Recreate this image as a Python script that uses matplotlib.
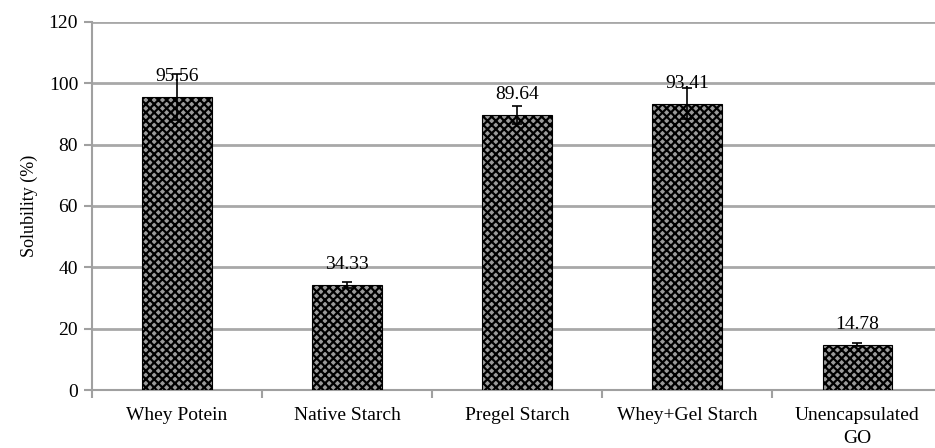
import matplotlib
matplotlib.use("Agg")
import matplotlib.pyplot as plt

categories = ["Whey Potein", "Native Starch", "Pregel Starch", "Whey+Gel Starch", "Unencapsulated\nGO"]
values = [95.56, 34.33, 89.64, 93.41, 14.78]
errors = [7.5, 1.0, 3.0, 5.0, 0.5]
labels = ["95.56", "34.33", "89.64", "93.41", "14.78"]
yticks = [0, 20, 40, 60, 80, 100, 120]

plt.rcParams['font.family'] = ['Liberation Serif', 'DejaVu Serif']
plt.rcParams['hatch.linewidth'] = 1.6
plt.rcParams['hatch.color'] = 'black'

fig = plt.figure(figsize=(9.35, 4.48), dpi=100)
ax = fig.add_axes([92/935, 58/448, 850.5/935, 368/448])

x = list(range(len(categories)))
ax.bar(x, values, width=0.41, facecolor='#9a9a9a', edgecolor='black', hatch='xxxx', linewidth=0.8, zorder=3)
ax.errorbar(x, values, yerr=errors, fmt='none', ecolor='black', elinewidth=1.2, capsize=3.5, capthick=1.2, zorder=4)
for xi, v, t in zip(x, values, labels):
    ax.annotate(t, (xi, v), xytext=(0, 12), textcoords='offset pixels', ha='center', va='bottom', fontsize=14, zorder=5)

ax.set_xlim(-0.5, 4.5)
ax.set_ylim(0, 120)
ax.set_yticks(yticks)
ax.set_xticks([i - 0.5 for i in range(len(categories) + 1)], minor=False)
ax.set_xticklabels([])
ax.set_xticks(x, minor=True)
ax.set_xticklabels(categories, minor=True, fontsize=14, linespacing=1.45)
ax.tick_params(axis='x', which='minor', length=0, pad=12)
ax.tick_params(axis='x', which='major', length=6, color='#a0a0a0', width=1.5)
ax.tick_params(axis='y', length=6, color='#a0a0a0', width=1.5, labelsize=14, pad=4)
ax.yaxis.grid(True, color='#a8a8a8', linewidth=2, zorder=0)
ax.set_axisbelow(True)
for s in ['top', 'right']:
    ax.spines[s].set_visible(False)
for s in ['left', 'bottom']:
    ax.spines[s].set_color('#a0a0a0')
    ax.spines[s].set_linewidth(1.5)
ax.set_ylabel("Solubility (%)", fontsize=13, labelpad=8)

fig.savefig("out.png", dpi=100)
